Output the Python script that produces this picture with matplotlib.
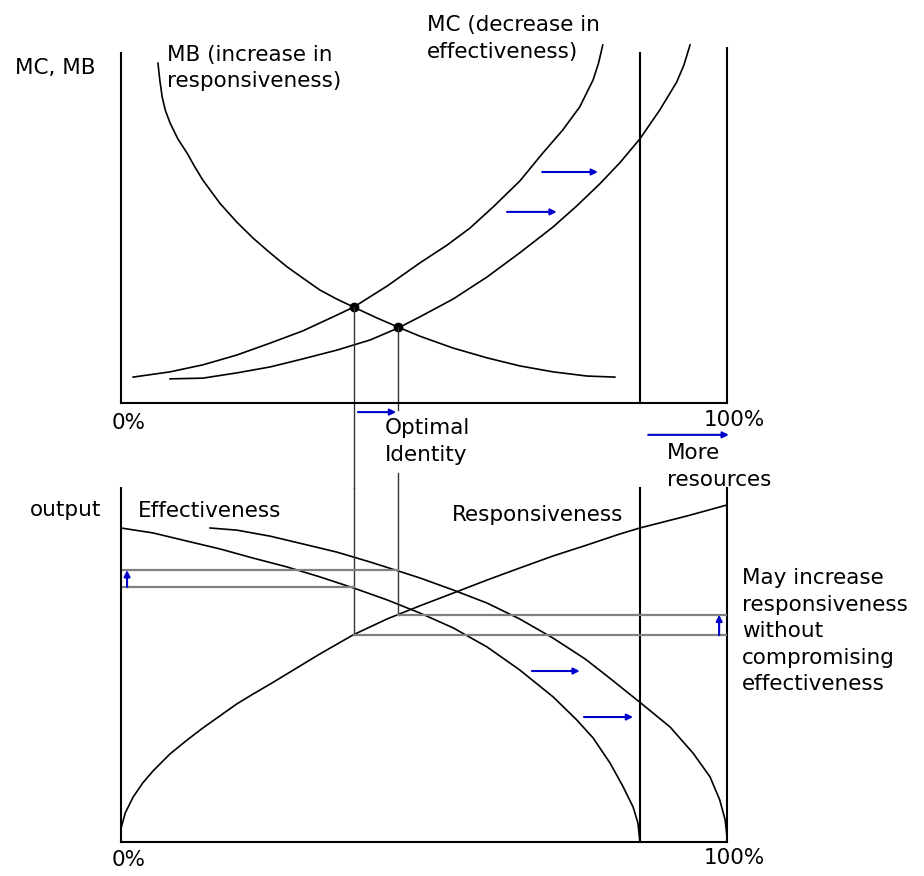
import matplotlib
matplotlib.use("Agg")
import matplotlib.pyplot as plt

# x axis = share of resources (%), y axis = value index (0-100)
OLD_LIMIT = 85.6   # 100% before the extra resources

# top panel: marginal benefit / marginal cost
mb_x = [6.1, 6.4, 6.8, 7.3, 8.1, 9.4, 10.9, 12.2, 13.5, 16.3, 19.1, 21.8, 24.6, 27.4, 30.0,
        32.8, 35.6, 38.4, 42.1, 45.7, 49.3, 54.8, 60.4, 65.8, 71.3, 76.9, 81.5]
mb_y = [97.1, 92.3, 87.4, 83.7, 80.0, 75.4, 71.4, 67.4, 63.7, 57.1, 51.7, 47.1, 42.9, 38.9, 35.7,
        32.3, 29.7, 27.4, 24.4, 21.7, 19.1, 15.7, 12.9, 10.6, 8.9, 7.7, 7.4]

mc1_x = [2.0, 8.1, 13.5, 19.1, 24.6, 30.0, 35.6, 38.4, 43.9, 49.3, 53.8, 57.6, 61.4, 65.8,
         69.6, 72.9, 75.7, 77.9, 78.8, 79.5]
mc1_y = [7.4, 8.9, 10.9, 13.7, 17.1, 20.6, 25.1, 27.4, 33.4, 40.0, 45.1, 50.0, 56.0, 63.4,
         71.4, 78.0, 84.6, 92.3, 97.1, 102.3]

mc2_x = [8.1, 13.5, 19.1, 24.6, 30.0, 35.6, 41.1, 45.7, 49.3, 54.8, 60.4, 65.8, 71.3, 75.2,
         79.0, 82.3, 85.6, 88.9, 91.7, 92.9, 93.9]
mc2_y = [6.9, 7.1, 8.6, 10.3, 12.6, 15.1, 18.0, 21.4, 24.6, 29.7, 36.0, 42.9, 50.3, 56.3,
         62.6, 68.6, 75.4, 83.7, 91.7, 96.6, 102.3]

eq_x = [38.4, 45.7]
eq_y = [27.4, 21.6]

# bottom panel: output
eff1_x = [0, 5.3, 10.9, 16.3, 21.8, 27.4, 32.8, 38.3, 43.9, 49.3, 54.8, 60.4, 65.8, 71.3,
          75.2, 77.9, 80.7, 82.8, 84.5, 85.3, 85.6]
eff1_y = [88.7, 87.3, 85.0, 82.8, 80.2, 77.7, 74.9, 71.8, 68.4, 64.7, 60.5, 55.1, 48.6, 41.0,
          34.5, 29.4, 22.3, 15.8, 9.9, 5.4, 0.6]

eff2_x = [14.7, 19.1, 24.6, 30.0, 35.6, 41.1, 45.7, 49.3, 54.8, 60.4, 65.8, 71.3, 76.6, 80.2,
          85.6, 90.6, 94.4, 97.2, 98.8, 99.7, 100.0]
eff2_y = [88.7, 88.1, 86.4, 84.2, 81.9, 79.1, 76.6, 74.6, 71.2, 67.5, 63.0, 57.6, 51.7, 46.9,
          39.5, 32.5, 25.1, 18.4, 11.9, 6.2, 1.4]

resp_x = [0, 0.7, 2.0, 3.6, 5.3, 8.1, 10.9, 13.5, 16.3, 19.1, 21.8, 24.6, 27.4, 32.8, 38.3,
          43.9, 49.3, 54.8, 60.4, 65.8, 71.3, 76.9, 82.3, 85.6, 93.4, 100.0]
resp_y = [3.8, 8.2, 12.7, 16.7, 20.1, 24.9, 28.8, 32.2, 35.6, 39.0, 41.8, 44.6, 47.5, 53.1, 58.5,
          63.0, 66.7, 70.3, 74.0, 77.4, 80.8, 83.9, 87.0, 88.7, 92.1, 95.2]

# guide levels
eff_old, eff_new = 72.0, 76.8
resp_old, resp_new = 58.4, 64.2

# blue shift arrows (x_start, x_end, y)
top_shifts = [(69.5, 78.7, 66.0), (63.7, 71.9, 54.6), (39.1, 45.4, -2.6), (87.0, 100.3, -9.1)]
bot_shifts = [(67.8, 75.7, 48.3), (76.4, 84.5, 35.3)]
# blue up arrows (x, y_start, y_end)
bot_lifts = [(1.0, eff_old, eff_new), (98.7, resp_old, resp_new)]

W, H = 924, 876
BLUE = '#0000cc'
GREY = '#808080'
FS = 15.5


def box(left, top, right, bottom):
    return [left / W, 1 - bottom / H, (right - left) / W, (bottom - top) / H]


def label(x, y, s, **kw):
    fig.text(x / W, 1 - y / H, s, va='center', ha='left', fontsize=FS, **kw)


def arrow(ax, x0, y0, x1, y1):
    ax.annotate('', xy=(x1, y1), xytext=(x0, y0), annotation_clip=False,
                arrowprops=dict(arrowstyle='-|>', color=BLUE, lw=1.5,
                                mutation_scale=9, shrinkA=0, shrinkB=0))


fig = plt.figure(figsize=(9.24, 8.76), dpi=100)
top = fig.add_axes(box(121, 53, 727, 403))
bot = fig.add_axes(box(121, 488, 727, 842))

for ax in (top, bot):
    ax.set_xlim(0, 100)
    ax.set_ylim(0, 100)
    ax.set_xticks([])
    ax.set_yticks([])
    ax.spines[['top', 'right']].set_visible(False)
    ax.spines[['left', 'bottom']].set_linewidth(1.5)
    ax.patch.set_visible(False)

# --- top panel
top.plot([100, 100], [0, 101.4], color='k', lw=1.5, clip_on=False)
top.plot([OLD_LIMIT, OLD_LIMIT], [0, 100], color='k', lw=1.5, clip_on=False)
top.plot(mb_x, mb_y, color='k', lw=1.2, clip_on=False)
top.plot(mc1_x, mc1_y, color='k', lw=1.2, clip_on=False)
top.plot(mc2_x, mc2_y, color='k', lw=1.2, clip_on=False)
top.plot(eq_x, eq_y, 'o', color='k', ms=6, clip_on=False)
top.plot([eq_x[0], eq_x[0]], [eq_y[0], -24.3], color='#333333', lw=1.0, clip_on=False)
top.plot([eq_x[1], eq_x[1]], [eq_y[1], -2.0], color='#333333', lw=1.0, clip_on=False)
for x0, x1, y in top_shifts:
    arrow(top, x0, y, x1, y)

# --- bottom panel
bot.plot([100, 100], [0, 100], color='k', lw=1.5, clip_on=False)
bot.plot([OLD_LIMIT, OLD_LIMIT], [0, 100], color='k', lw=1.5, clip_on=False)
bot.plot(eff1_x, eff1_y, color='k', lw=1.2)
bot.plot(eff2_x, eff2_y, color='k', lw=1.2, clip_on=False)
bot.plot(resp_x, resp_y, color='k', lw=1.2, clip_on=False)
bot.plot([eq_x[0], eq_x[0]], [100, resp_old], color='#333333', lw=1.0, clip_on=False)
bot.plot([eq_x[1], eq_x[1]], [104.2, resp_new], color='#333333', lw=1.0, clip_on=False)
bot.plot([0, eq_x[1]], [eff_new, eff_new], color=GREY, lw=1.6)
bot.plot([0, eq_x[0]], [eff_old, eff_old], color=GREY, lw=1.6)
bot.plot([eq_x[1], 100], [resp_new, resp_new], color=GREY, lw=1.6)
bot.plot([eq_x[0], 100], [resp_old, resp_old], color=GREY, lw=1.6)
for x0, x1, y in bot_shifts:
    arrow(bot, x0, y, x1, y)
for x, y0, y1 in bot_lifts:
    arrow(bot, x, y0, x, y1)

# --- text
label(15, 68, 'MC, MB')
label(167, 55, 'MB (increase in')
label(167, 81, 'responsiveness)')
label(427, 25, 'MC (decrease in')
label(427, 52, 'effectiveness)')
label(112, 423, '0%')
label(704, 420, '100%')
label(385, 428, 'Optimal')
label(385, 455, 'Identity')
label(667, 453, 'More')
label(667, 480, 'resources')
label(30, 510, 'output')
label(138, 511, 'Effectiveness')
label(452, 515, 'Responsiveness')
label(742, 578, 'May increase')
label(742, 605, 'responsiveness')
label(742, 631, 'without')
label(742, 658, 'compromising')
label(742, 684, 'effectiveness')
label(112, 860, '0%')
label(704, 858, '100%')

fig.savefig('out.png', dpi=100, facecolor='white')
